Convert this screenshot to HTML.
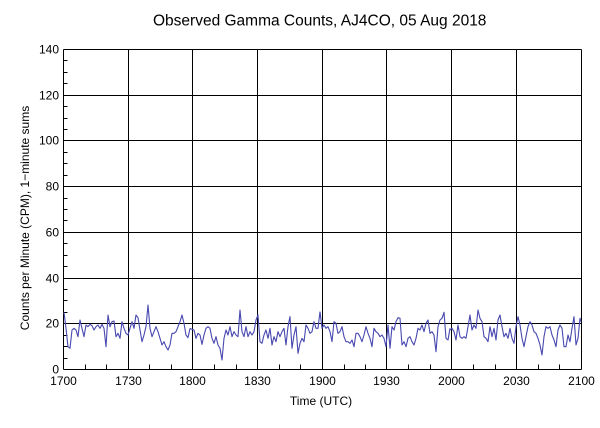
<!DOCTYPE html>
<html>
<head>
<meta charset="utf-8">
<style>
html,body{margin:0;padding:0;background:#fff;}
svg{display:block;}
text{font-family:"Liberation Sans",Arial,sans-serif;fill:#000;}
</style>
</head>
<body>
<svg width="600" height="428" viewBox="0 0 600 428" xmlns="http://www.w3.org/2000/svg">
<rect x="0" y="0" width="600" height="428" fill="#fff"/>

<!-- title -->
<text x="153" y="25.5" font-size="15.5">Observed Gamma Counts, AJ4CO, 05 Aug 2018</text>

<!-- grid -->
<g stroke="#000" stroke-width="1" shape-rendering="crispEdges" fill="none">
  <line x1="63.5" y1="49.5" x2="581.5" y2="49.5"/>
  <line x1="63.5" y1="95.5" x2="581.5" y2="95.5"/>
  <line x1="63.5" y1="140.5" x2="581.5" y2="140.5"/>
  <line x1="63.5" y1="186.5" x2="581.5" y2="186.5"/>
  <line x1="63.5" y1="232.5" x2="581.5" y2="232.5"/>
  <line x1="63.5" y1="278.5" x2="581.5" y2="278.5"/>
  <line x1="63.5" y1="323.5" x2="581.5" y2="323.5"/>
  <line x1="63.5" y1="369.5" x2="581.5" y2="369.5"/>
  <line x1="63.5" y1="49.5" x2="63.5" y2="369.5"/>
  <line x1="128.5" y1="49.5" x2="128.5" y2="369.5"/>
  <line x1="192.5" y1="49.5" x2="192.5" y2="369.5"/>
  <line x1="257.5" y1="49.5" x2="257.5" y2="369.5"/>
  <line x1="322.5" y1="49.5" x2="322.5" y2="369.5"/>
  <line x1="386.5" y1="49.5" x2="386.5" y2="369.5"/>
  <line x1="451.5" y1="49.5" x2="451.5" y2="369.5"/>
  <line x1="516.5" y1="49.5" x2="516.5" y2="369.5"/>
  <line x1="581.5" y1="49.5" x2="581.5" y2="369.5"/>
</g>

<!-- minor ticks -->
<g stroke="#000" stroke-width="1" shape-rendering="crispEdges">
  <line x1="63.5" y1="358.5" x2="67.5" y2="358.5"/>
  <line x1="63.5" y1="346.5" x2="67.5" y2="346.5"/>
  <line x1="63.5" y1="335.5" x2="67.5" y2="335.5"/>
  <line x1="63.5" y1="312.5" x2="67.5" y2="312.5"/>
  <line x1="63.5" y1="300.5" x2="67.5" y2="300.5"/>
  <line x1="63.5" y1="289.5" x2="67.5" y2="289.5"/>
  <line x1="63.5" y1="266.5" x2="67.5" y2="266.5"/>
  <line x1="63.5" y1="255.5" x2="67.5" y2="255.5"/>
  <line x1="63.5" y1="243.5" x2="67.5" y2="243.5"/>
  <line x1="63.5" y1="220.5" x2="67.5" y2="220.5"/>
  <line x1="63.5" y1="209.5" x2="67.5" y2="209.5"/>
  <line x1="63.5" y1="198.5" x2="67.5" y2="198.5"/>
  <line x1="63.5" y1="175.5" x2="67.5" y2="175.5"/>
  <line x1="63.5" y1="163.5" x2="67.5" y2="163.5"/>
  <line x1="63.5" y1="152.5" x2="67.5" y2="152.5"/>
  <line x1="63.5" y1="129.5" x2="67.5" y2="129.5"/>
  <line x1="63.5" y1="118.5" x2="67.5" y2="118.5"/>
  <line x1="63.5" y1="106.5" x2="67.5" y2="106.5"/>
  <line x1="63.5" y1="83.5" x2="67.5" y2="83.5"/>
  <line x1="63.5" y1="72.5" x2="67.5" y2="72.5"/>
  <line x1="63.5" y1="60.5" x2="67.5" y2="60.5"/>

  <line x1="85.5" y1="369.5" x2="85.5" y2="364.5"/>
  <line x1="106.5" y1="369.5" x2="106.5" y2="364.5"/>
  <line x1="149.5" y1="369.5" x2="149.5" y2="364.5"/>
  <line x1="171.5" y1="369.5" x2="171.5" y2="364.5"/>
  <line x1="214.5" y1="369.5" x2="214.5" y2="364.5"/>
  <line x1="236.5" y1="369.5" x2="236.5" y2="364.5"/>
  <line x1="279.5" y1="369.5" x2="279.5" y2="364.5"/>
  <line x1="300.5" y1="369.5" x2="300.5" y2="364.5"/>
  <line x1="344.5" y1="369.5" x2="344.5" y2="364.5"/>
  <line x1="365.5" y1="369.5" x2="365.5" y2="364.5"/>
  <line x1="408.5" y1="369.5" x2="408.5" y2="364.5"/>
  <line x1="430.5" y1="369.5" x2="430.5" y2="364.5"/>
  <line x1="473.5" y1="369.5" x2="473.5" y2="364.5"/>
  <line x1="495.5" y1="369.5" x2="495.5" y2="364.5"/>
  <line x1="538.5" y1="369.5" x2="538.5" y2="364.5"/>
  <line x1="559.5" y1="369.5" x2="559.5" y2="364.5"/>
</g>

<!-- data -->
<g fill="none" stroke="#4848b0" stroke-width="1.1" stroke-linejoin="round">
  <g transform="translate(60,295) scale(0.33333)">
    <polyline vector-effect="non-scaling-stroke" points="12,52 18,100 24,155 30,160 36,105 42,100 48,105 54,125 60,75 66,100 72,125 78,90 84,95 90,88 96,92 102,105 108,95 114,90 120,100 126,88 132,100 138,155 144,60 150,95 156,80 162,78 168,125 174,115 180,130 186,80 192,100 198,115 204,120 210,100 216,80 222,100 228,60 234,68 240,105 246,140 252,120 258,95 264,30 270,100 276,125 282,110 288,95 294,110 300,130 306,150 312,140 318,155 324,165 330,150 336,115 342,115 348,110 354,95 360,80 366,60 372,85 378,120 384,128 390,100"/>
  </g>
  <g transform="translate(190,295) scale(0.33333)">
    <polyline vector-effect="non-scaling-stroke" points="0,100 6,103 12,105 18,130 24,115 30,120 36,148 42,120 48,100 54,95 60,100 66,130 72,145 78,125 84,150 90,160 96,195 102,130 108,105 114,120 120,95 126,125 132,110 138,120 144,125 150,45 156,110 162,125 168,95 174,125 180,110 186,120 192,110 198,75 204,60 210,140 216,145 222,120 228,105 234,130 240,100 246,150 252,125 258,140 264,110 270,125 276,110 282,100 288,150 294,95 300,65 306,160 312,120 318,95 324,175 330,145 336,130 342,140 348,90 354,100 360,115 366,110 372,80 378,100 384,100 390,50"/>
  </g>
  <g transform="translate(320,295) scale(0.33333)">
    <polyline vector-effect="non-scaling-stroke" points="0,50 6,100 12,90 18,100 24,95 30,110 36,140 42,80 48,85 54,115 60,110 66,95 72,125 78,140 84,140 90,145 96,135 102,155 108,115 114,115 120,125 126,140 132,120 138,95 144,115 150,130 156,155 162,100 168,110 174,115 180,125 186,120 192,130 198,155 204,90 210,160 216,95 222,105 228,80 234,68 240,70 246,150 252,140 258,155 264,130 270,125 276,140 282,150 288,130 294,100 300,105 306,90 312,110 318,85 324,75 330,115 336,110 342,120 348,170 354,95 360,75 366,70 372,52 378,130 384,135 390,100"/>
  </g>
  <g transform="translate(450,295) scale(0.33333)">
    <polyline vector-effect="non-scaling-stroke" points="0,105 6,100 12,110 18,135 24,90 30,125 36,130 42,125 48,130 54,95 60,60 66,105 72,90 78,100 84,45 90,70 96,80 102,125 108,130 114,140 120,95 126,125 132,100 138,135 144,75 150,60 156,95 162,125 168,115 174,130 180,100 186,130 192,145 198,95 204,65 210,90 216,130 222,155 228,125 234,95 240,80 246,90 252,110 258,115 264,130 270,150 276,180 282,125 288,95 294,100 300,95 306,120 312,135 318,155 324,105 330,90 336,100 342,155 348,155 354,120 360,140 366,100 372,65 378,150 384,130 390,70 393,80"/>
  </g>
</g>

<!-- y tick labels -->
<g font-size="12" text-anchor="end">
  <text x="59" y="53.5">140</text>
  <text x="59" y="99.5">120</text>
  <text x="59" y="144.5">100</text>
  <text x="59" y="190.5">80</text>
  <text x="59" y="236.5">60</text>
  <text x="59" y="282.5">40</text>
  <text x="59" y="327.5">20</text>
  <text x="59" y="373.5">0</text>
</g>

<!-- x tick labels -->
<g font-size="12" text-anchor="middle">
  <text x="63.5" y="385">1700</text>
  <text x="128.5" y="385">1730</text>
  <text x="192.5" y="385">1800</text>
  <text x="257.5" y="385">1830</text>
  <text x="322.5" y="385">1900</text>
  <text x="386.5" y="385">1930</text>
  <text x="451.5" y="385">2000</text>
  <text x="516.5" y="385">2030</text>
  <text x="581.5" y="385">2100</text>
</g>

<!-- axis labels -->
<text x="321" y="405" font-size="12" text-anchor="middle">Time (UTC)</text>
<text transform="translate(29,218) rotate(-90)" font-size="12" text-anchor="middle">Counts per Minute (CPM), 1−minute sums</text>
</svg>
</body>
</html>
